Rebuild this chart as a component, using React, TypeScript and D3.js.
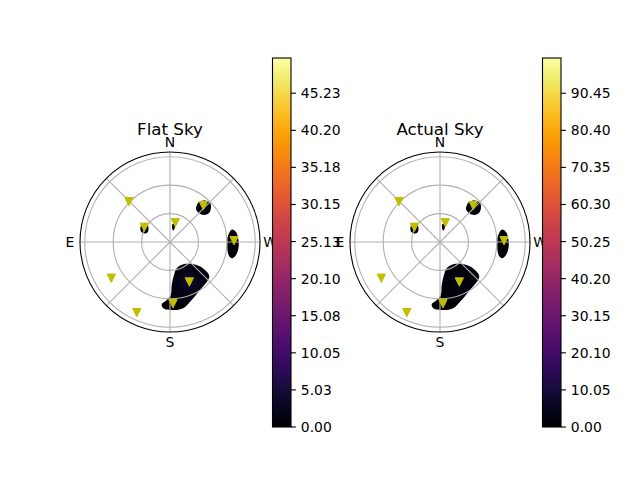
// @ts-nocheck
/* eslint-disable */
import * as d3 from "d3";
import React from "react";

// station markers (azimuth from N towards E, zenith angle) - same in both panels
const markerAz = [45.5, 344.6, 60.2, 317.5, 271.2, 121.7, 205.8, 182.8, 154.8];
const markerZen = [60.7, 21.1, 31.2, 52.0, 67.6, 72.8, 46.9, 65.2, 82.4];

// blob outlines as [azimuth, zenith] pairs
const blobSouth = [
  [194.3, 28.6], [210.8, 27.4], [229.3, 37.2], [231.3, 47.3], [228.6, 55.3],
  [212, 59.7], [198.5, 66.5], [191.3, 71.4], [182.8, 71.9], [174.2, 70.3],
  [172.4, 66.4], [176.7, 61.3], [180.8, 55.9], [182.3, 45.4], [186.9, 35.1],
];
const blobNW = [
  [323.9, 48.4], [324.1, 52.1], [319.9, 57.3], [314.3, 59.0], [309.7, 56.2],
  [306.6, 51.3], [308.5, 45.8], [315, 43.3], [321.8, 44.3],
];
const blobW = [
  [281.4, 66.8], [278.6, 70.5], [271.7, 72.3], [265, 72.6], [258.9, 71.0],
  [255.3, 67.7], [257.5, 63.3], [266, 60.6], [275.9, 61.5],
];
const blobNE = [
  [63.1, 34.9], [56.3, 34.2], [52.0, 30.8], [56.9, 27.1], [67.1, 25.8],
  [71.9, 28.9], [70.1, 32.6],
];
const blobN = [[352.1, 19.2], [344.5, 19.7], [340.9, 14.5], [345.4, 12.5], [352.4, 16.0]];
const blobs = [blobSouth, blobNW, blobW, blobNE, blobN];

// brightest spot of the south blob
const glowAz = 205.8;
const glowZen = 46.9;

const panelTitles = ["Flat Sky", "Actual Sky"];
const panelMax = [50, 100];
const panelPeak = [4.5, 4];
const flatTicks = ["0.00", "5.03", "10.05", "15.08", "20.10", "25.13", "30.15", "35.18", "40.20", "45.23"];
const actualTicks = ["0.00", "10.05", "20.10", "30.15", "40.20", "50.25", "60.30", "70.35", "80.40", "90.45"];
const panelTicks = [flatTicks, actualTicks];

const thetaLabels = ["N", "E", "S", "W"];
const thetaLabelAz = [0, 90, 180, 270];
const ringZen = [30, 60, 90];
const spokeAz = [0, 45, 90, 135, 180, 225, 270, 315];

const W = 640;
const H = 480;
const R = 90;
const zenMax = 95;
const font = "DejaVu Sans, sans-serif";

const Panel = ({ idx, cx, cy, barX }) => {
  const r = d3.scaleLinear([0, zenMax], [0, R]);
  const proj = (az, zen) => {
    const a = (az * Math.PI) / 180;
    return [cx - r(zen) * Math.sin(a), cy - r(zen) * Math.cos(a)];
  };
  const blobLine = d3.line().curve(d3.curveCatmullRomClosed);
  const max = panelMax[idx];
  const color = d3.scaleSequential(d3.interpolateInferno).domain([0, max]);
  const [gx, gy] = proj(glowAz, glowZen);
  const barTop = 58;
  const barBottom = 427;
  const barW = 18.5;
  const y = d3.scaleLinear([0, max], [barBottom, barTop]);
  const gid = `glow${idx}`;
  const cid = `cbar${idx}`;
  const clip = `clip${idx}`;
  return (
    <g>
      <defs>
        <radialGradient id={gid} gradientUnits="userSpaceOnUse" cx={gx} cy={gy} r={26}>
          <stop offset="0" stopColor={color(panelPeak[idx])} />
          <stop offset="0.45" stopColor={color(panelPeak[idx] * 0.4)} />
          <stop offset="1" stopColor={color(0)} />
        </radialGradient>
        <linearGradient id={cid} x1="0" y1="1" x2="0" y2="0">
          {d3.range(0, 1.0001, 0.05).map((t) => (
            <stop key={t} offset={t} stopColor={d3.interpolateInferno(t)} />
          ))}
        </linearGradient>
        <clipPath id={clip}>
          <circle cx={cx} cy={cy} r={R} />
        </clipPath>
      </defs>
      <g clipPath={`url(#${clip})`}>
        {blobs.map((b, i) => (
          <path
            key={i}
            d={blobLine(b.map(([az, zen]) => proj(az, zen)))}
            fill={i === 0 ? `url(#${gid})` : color(0)}
          />
        ))}
      </g>
      <g fill="none" stroke="#b0b0b0" strokeWidth={1.1}>
        {ringZen.map((z) => (
          <circle key={z} cx={cx} cy={cy} r={r(z)} />
        ))}
        {spokeAz.map((a) => {
          const [x2, y2] = proj(a, zenMax);
          return <line key={a} x1={cx} y1={cy} x2={x2} y2={y2} />;
        })}
      </g>
      <circle cx={cx} cy={cy} r={R} fill="none" stroke="black" strokeWidth={1.1} />
      <g fill="#bfbf00" stroke="#bfbf00" strokeWidth={1}>
        {markerAz.map((az, i) => {
          const [x, yy] = proj(az, markerZen[i]);
          const s = 4.17;
          return <path key={i} d={`M${x - s},${yy - s}L${x + s},${yy - s}L${x},${yy + s}Z`} />;
        })}
      </g>
      {thetaLabels.map((t, i) => {
        const a = (thetaLabelAz[i] * Math.PI) / 180;
        return (
          <text
            key={t}
            x={cx - (R + 10) * Math.sin(a)}
            y={cy - (R + 10) * Math.cos(a)}
            textAnchor="middle"
            dominantBaseline="central"
            fontSize={13.9}
            fontFamily={font}
          >
            {t}
          </text>
        );
      })}
      <text x={cx} y={135} textAnchor="middle" fontSize={16.7} fontFamily={font}>
        {panelTitles[idx]}
      </text>
      <rect x={barX} y={barTop} width={barW} height={barBottom - barTop} fill={`url(#${cid})`} />
      <rect x={barX} y={barTop} width={barW} height={barBottom - barTop} fill="none" stroke="black" strokeWidth={1.1} />
      {panelTicks[idx].map((t) => (
        <g key={t} transform={`translate(${barX + barW},${y(+t)})`}>
          <line x2={4.9} stroke="black" strokeWidth={1.1} />
          <text x={9.8} dominantBaseline="central" fontSize={13.9} fontFamily={font}>
            {t}
          </text>
        </g>
      ))}
    </g>
  );
};

export default function App() {
  return (
    <svg width={W} height={H} style={{ display: "block", margin: -8 }}>
      <rect width={W} height={H} fill="white" />
      <Panel idx={0} cx={170} cy={242} barX={272.5} />
      <Panel idx={1} cx={440} cy={242} barX={542.5} />
    </svg>
  );
}
